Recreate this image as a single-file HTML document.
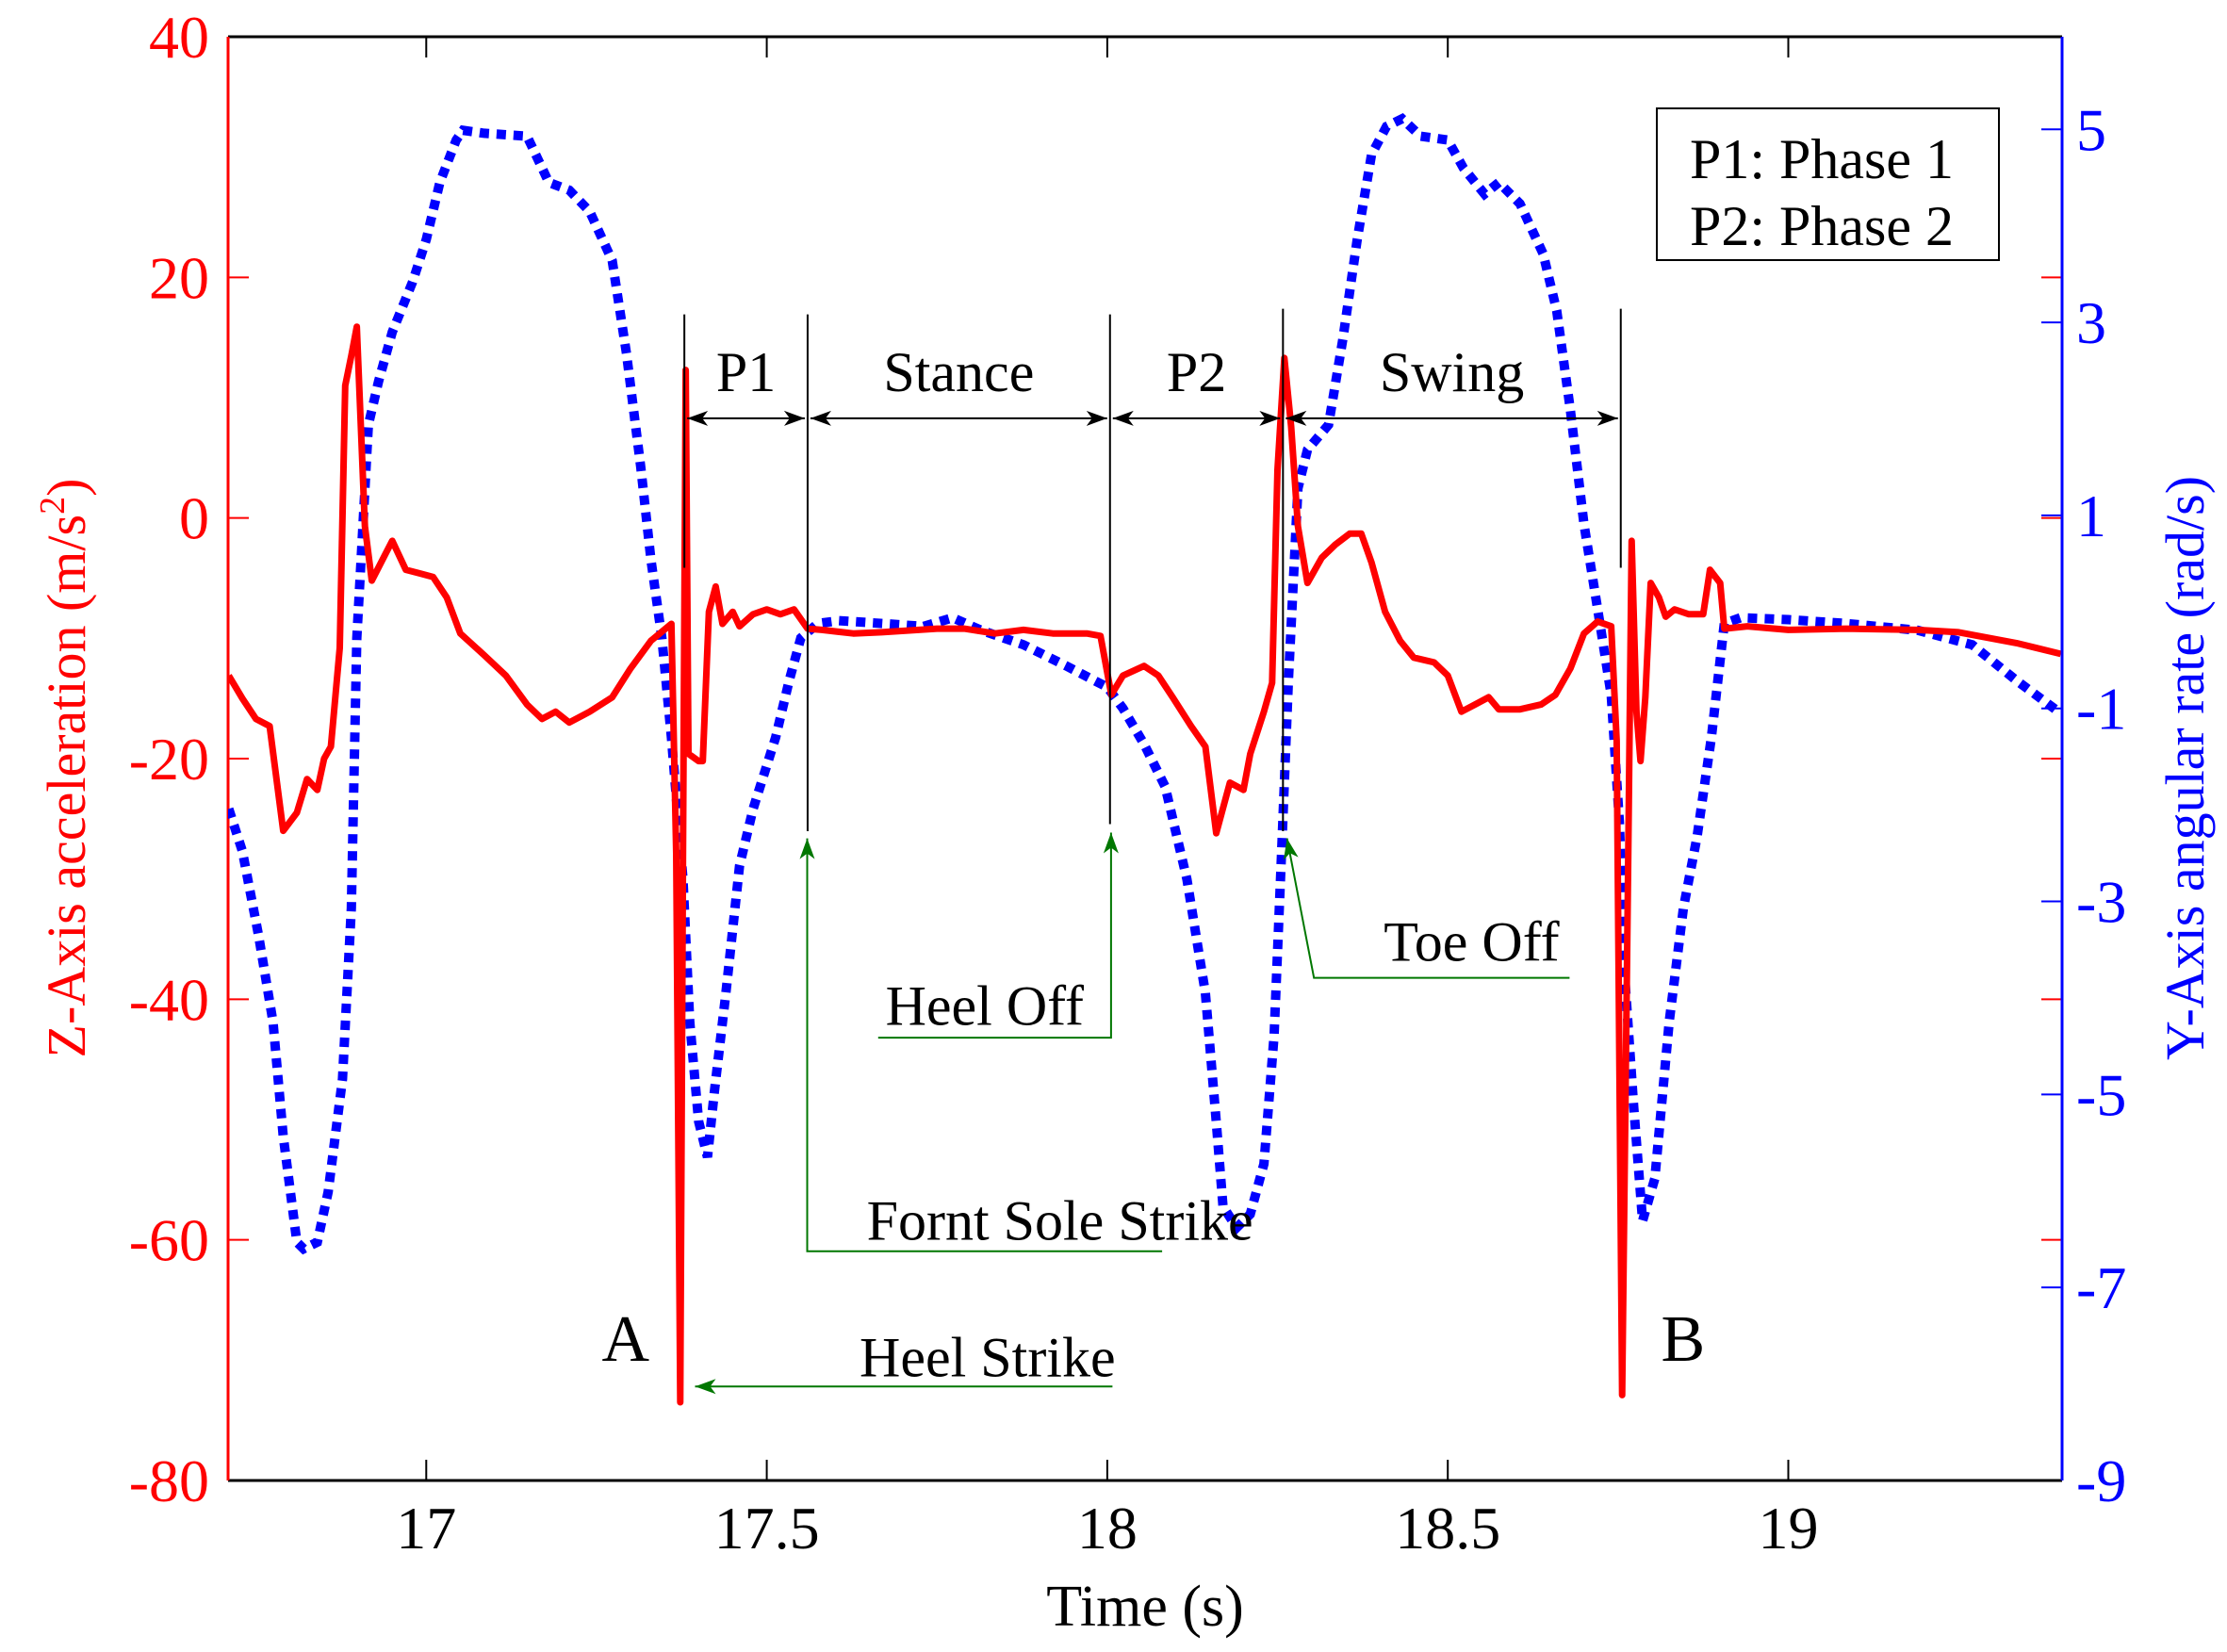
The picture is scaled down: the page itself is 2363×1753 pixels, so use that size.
<!DOCTYPE html>
<html><head><meta charset="utf-8"><style>
html,body{margin:0;padding:0;background:#fff;}
svg{display:block;font-family:"Liberation Serif",serif;}
</style></head><body>
<svg id="chart" width="2363" height="1753" viewBox="0 0 2363 1753" xmlns="http://www.w3.org/2000/svg">
<defs>
<marker id="ag" markerWidth="30" markerHeight="30" refX="22" refY="10" orient="auto" markerUnits="userSpaceOnUse"><path d="M0,2 L22,10 L0,18 L6,10 Z" fill="#007700"/></marker>
<marker id="kb" markerWidth="30" markerHeight="30" refX="22" refY="10" orient="auto-start-reverse" markerUnits="userSpaceOnUse"><path d="M0,2 L22,10 L0,18 L6,10 Z" fill="#000"/></marker>
</defs>
</svg>
<script>
const timeVals=[16.71,16.73,16.75,16.77,16.79,16.81,16.825,16.84,16.85,16.86,16.873,16.881,16.89,16.898,16.91,16.92,16.94,16.95,16.97,16.99,17.01,17.03,17.05,17.085,17.117,17.148,17.17,17.19,17.21,17.24,17.273,17.3,17.33,17.36,17.367,17.373,17.377,17.381,17.385,17.4,17.406,17.415,17.425,17.435,17.45,17.46,17.48,17.5,17.52,17.54,17.56,17.581,17.627,17.669,17.75,17.79,17.835,17.877,17.92,17.97,17.99,18.006,18.023,18.054,18.075,18.096,18.123,18.144,18.16,18.18,18.2,18.21,18.23,18.242,18.25,18.26,18.27,18.28,18.294,18.315,18.335,18.356,18.373,18.388,18.408,18.43,18.45,18.48,18.5,18.52,18.54,18.56,18.575,18.606,18.637,18.658,18.68,18.7,18.72,18.74,18.748,18.756,18.765,18.77,18.777,18.783,18.79,18.798,18.81,18.82,18.833,18.854,18.875,18.885,18.9,18.906,18.94,19.0,19.085,19.19,19.25,19.335,19.4];
const accelVals=[-13.1,-15,-16.7,-17.3,-26,-24.5,-21.7,-22.6,-20,-19,-10.8,11,13.5,15.9,-0.7,-5.2,-3,-1.9,-4.3,-4.6,-4.9,-6.6,-9.6,-11.4,-13.1,-15.5,-16.7,-16.1,-17,-16.1,-14.9,-12.5,-10.2,-8.8,-27.9,-73.5,-28,12.3,-19.6,-20.2,-20.2,-7.8,-5.7,-8.8,-7.8,-9,-8,-7.6,-8,-7.6,-9.2,-9.3,-9.6,-9.5,-9.2,-9.2,-9.6,-9.3,-9.6,-9.6,-9.8,-14.7,-13.1,-12.3,-13.1,-14.9,-17.3,-19,-26.2,-22,-22.6,-19.6,-16.1,-13.7,4,13.3,7.6,-0.7,-5.4,-3.3,-2.2,-1.3,-1.3,-3.7,-7.8,-10.2,-11.6,-12,-13.1,-16.1,-15.5,-14.9,-15.9,-15.9,-15.5,-14.7,-12.5,-9.6,-8.6,-9,-18.5,-72.9,-27.9,-1.9,-16.1,-20.2,-14.9,-5.4,-6.6,-8.2,-7.6,-8,-8,-4.3,-5.4,-9.2,-9,-9.3,-9.2,-9.3,-9.5,-10.4,-11.3];
const gyroTime=[16.71,16.73,16.754,16.775,16.79,16.81,16.82,16.84,16.856,16.877,16.89,16.898,16.915,16.93,16.95,16.98,17.0,17.02,17.044,17.054,17.085,17.148,17.18,17.21,17.24,17.273,17.294,17.315,17.33,17.346,17.36,17.377,17.387,17.4,17.413,17.423,17.44,17.46,17.48,17.513,17.533,17.55,17.575,17.606,17.67,17.73,17.773,17.815,17.877,17.94,18.0,18.023,18.054,18.085,18.117,18.144,18.16,18.17,18.19,18.21,18.23,18.245,18.256,18.266,18.28,18.294,18.325,18.346,18.367,18.388,18.41,18.433,18.46,18.5,18.523,18.554,18.575,18.606,18.64,18.66,18.68,18.7,18.72,18.74,18.752,18.76,18.773,18.786,18.804,18.825,18.846,18.866,18.887,18.906,18.93,19.0,19.085,19.19,19.27,19.335,19.4];
const gyroVals=[-2.04,-2.48,-3.36,-4.25,-5.43,-6.53,-6.6,-6.53,-6.01,-4.84,-3.07,-0.27,1.94,2.39,2.9,3.42,3.86,4.45,4.89,4.99,4.96,4.93,4.45,4.37,4.15,3.64,2.68,1.5,0.54,-0.27,-1.3,-2.77,-4.25,-5.28,-5.65,-4.98,-3.95,-2.63,-2.04,-1.3,-0.71,-0.27,-0.12,-0.09,-0.12,-0.15,-0.06,-0.19,-0.34,-0.56,-0.78,-1.0,-1.37,-1.81,-2.77,-3.95,-5.28,-6.16,-6.38,-6.24,-5.72,-4.39,-2.48,-0.71,1.28,1.68,1.94,2.83,3.86,4.74,5.03,5.11,4.93,4.89,4.6,4.33,4.45,4.23,3.71,3.12,2.09,0.91,0.03,-0.86,-2.18,-3.8,-5.13,-6.31,-5.87,-4.25,-3.07,-2.33,-1.3,-0.12,-0.06,-0.08,-0.12,-0.19,-0.34,-0.71,-1.05];
const xTicks=[17,17.5,18,18.5,19];
const xTickLabels=["17","17.5","18","18.5","19"];
const leftTicks=[40,20,0,-20,-40,-60,-80];
const rightTicks=[5,3,1,-1,-3,-5,-7,-9];
const phaseTimes=[17.379,17.56,18.004,18.258,18.754];
const phaseLabels=["P1","Stance","P2","Swing"];

const L=242,R=2188,T=39,B=1571;
const X0=16.709,X1=19.402,YL0=-80,YL1=40,YR0=-9,YR1=5.96;
const x=t=>L+(t-X0)/(X1-X0)*(R-L);
const yl=v=>B-(v-YL0)/(YL1-YL0)*(B-T);
const yr=v=>B-(v-YR0)/(YR1-YR0)*(B-T);
const D=(xd,yd)=>[242+(xd-160)*1.5062,39+(yd-27)*1.5108];
const svg=document.getElementById('chart');
const NS='http://www.w3.org/2000/svg';
function mk(tag,attrs,parent,txt){const e=document.createElementNS(NS,tag);for(const k in attrs)e.setAttribute(k,attrs[k]);if(txt!==undefined)e.textContent=txt;(parent||svg).appendChild(e);return e;}

xTicks.forEach((t,i)=>{
  let e=mk('line',{x1:x(t),x2:x(t),y1:B,y2:B-22,stroke:'#000','stroke-width':2});
  
  
  e=mk('line',{x1:x(t),x2:x(t),y1:T,y2:T+22,stroke:'#000','stroke-width':2});
  
  
  e=mk('text',{x:x(t),y:1643,'text-anchor':'middle','font-size':64,fill:'#000'},svg,xTickLabels[i]);
  
  
});
leftTicks.forEach(v=>{
  let e=mk('line',{x1:L,x2:L+22,y1:yl(v),y2:yl(v),stroke:'#f00','stroke-width':2});
  
  
  e=mk('line',{x1:R,x2:R-22,y1:yl(v),y2:yl(v),stroke:'#f00','stroke-width':2});
  
  
  e=mk('text',{x:222,y:yl(v)+22,'text-anchor':'end','font-size':64,fill:'#f00'},svg,String(v));
  
  
});
rightTicks.forEach(v=>{
  let e=mk('line',{x1:R,x2:R-22,y1:yr(v),y2:yr(v),stroke:'#00f','stroke-width':2});
  
  
  e=mk('text',{x:2203,y:yr(v)+22,'text-anchor':'start','font-size':64,fill:'#00f'},svg,String(v));
  
  
});

let ax=mk('line',{x1:L,x2:R,y1:T,y2:T,stroke:'#000','stroke-width':3});


ax=mk('line',{x1:L,x2:R,y1:B,y2:B,stroke:'#000','stroke-width':3});


ax=mk('line',{x1:L,x2:L,y1:T,y2:B,stroke:'#f00','stroke-width':3});



const clip=mk('clipPath',{id:'pc'});
mk('rect',{x:L,y:T,width:R-L,height:B-T},clip);

let ptsB=gyroTime.map((t,i)=>x(t).toFixed(1)+','+yr(gyroVals[i]).toFixed(1)).join(' ');
let s=mk('polyline',{points:ptsB,fill:'none',stroke:'#00f','stroke-width':10,'stroke-dasharray':'10 8','clip-path':'url(#pc)'});


let ptsR=timeVals.map((t,i)=>x(t).toFixed(1)+','+yl(accelVals[i]).toFixed(1)).join(' ');
s=mk('polyline',{points:ptsR,fill:'none',stroke:'#f00','stroke-width':7,'stroke-linejoin':'round','clip-path':'url(#pc)'});



ax=mk('line',{x1:R,x2:R,y1:T,y2:B,stroke:'#00f','stroke-width':3});



const lineBottoms=[400,585,580,585,400];
phaseTimes.forEach((t,i)=>{
  const top=i>=3?D(0,218)[1]:D(0,222)[1];
  const e=mk('line',{x1:x(t),x2:x(t),y1:top,y2:D(0,lineBottoms[i])[1],stroke:'#000','stroke-width':2});
  
  
});
const ay=D(0,295)[1];
phaseLabels.forEach((lab,i)=>{
  const a=x(phaseTimes[i]),b=x(phaseTimes[i+1]);
  let e=mk('line',{x1:a+3,x2:b-3,y1:ay,y2:ay,stroke:'#000','stroke-width':2,'marker-start':'url(#kb)','marker-end':'url(#kb)'});
  
  
  e=mk('text',{x:(a+b)/2,y:D(0,276)[1],'text-anchor':'middle','font-size':60,fill:'#000'},svg,lab);
  
  
});

function gline(pts,name,arrow){
  const p=pts.map(q=>D(q[0],q[1]).map(v=>v.toFixed(1)).join(',')).join(' ');
  const a={points:p,fill:'none',stroke:'#007700','stroke-width':2};
  if(arrow)a['marker-end']='url(#ag)';
  const e=mk('polyline',a);
  
  
}
function gtext(xd,yd,txt,name,size,anchor){
  const p=D(xd,yd);
  const e=mk('text',{x:p[0],y:p[1],'text-anchor':anchor||'middle','font-size':size||60,fill:'#000'},svg,txt);
  
  
}
gline([[618,730],[782,730],[782,586]],'heel-off-pointer',true);
gtext(693,721,'Heel Off','heel-off-label');
gline([[818,880],[568,880],[568,590]],'front-sole-strike-pointer',true);
gtext(746,872,'Fornt Sole Strike','front-sole-strike-label');
gline([[1105,688],[925,688],[906,590]],'toe-off-pointer',true);
gtext(1036,676,'Toe Off','toe-off-label');
gline([[783,975],[489,975]],'heel-strike-pointer',true);
gtext(695,968,'Heel Strike','heel-strike-label');
gtext(440,957,'A','marker-a',70);
gtext(1185,957,'B','marker-b',70);

let t1=mk('text',{x:0,y:0,'text-anchor':'middle','font-size':58,fill:'#f00',transform:'translate(90,815) rotate(-90)'},svg,'');


t1.innerHTML='Z-Axis acceleration (m/s<tspan dy="-22" font-size="38">2</tspan><tspan dy="22">)</tspan>';
let t2=mk('text',{x:0,y:0,'text-anchor':'middle','font-size':58,fill:'#00f',transform:'translate(2338,815) rotate(-90)'},svg,'Y-Axis angular rate (rad/s)');


let t3=mk('text',{x:1215,y:1725,'text-anchor':'middle','font-size':62,fill:'#000'},svg,'Time (s)');



let lg=mk('g',{});


let r=mk('rect',{x:1758,y:115,width:363,height:161,fill:'#fff',stroke:'#000','stroke-width':2},lg);


let l1=mk('text',{x:1793,y:189,'font-size':60,fill:'#000'},lg,'P1: Phase 1');


let l2=mk('text',{x:1793,y:260,'font-size':60,fill:'#000'},lg,'P2: Phase 2');


</script>
</body></html>
